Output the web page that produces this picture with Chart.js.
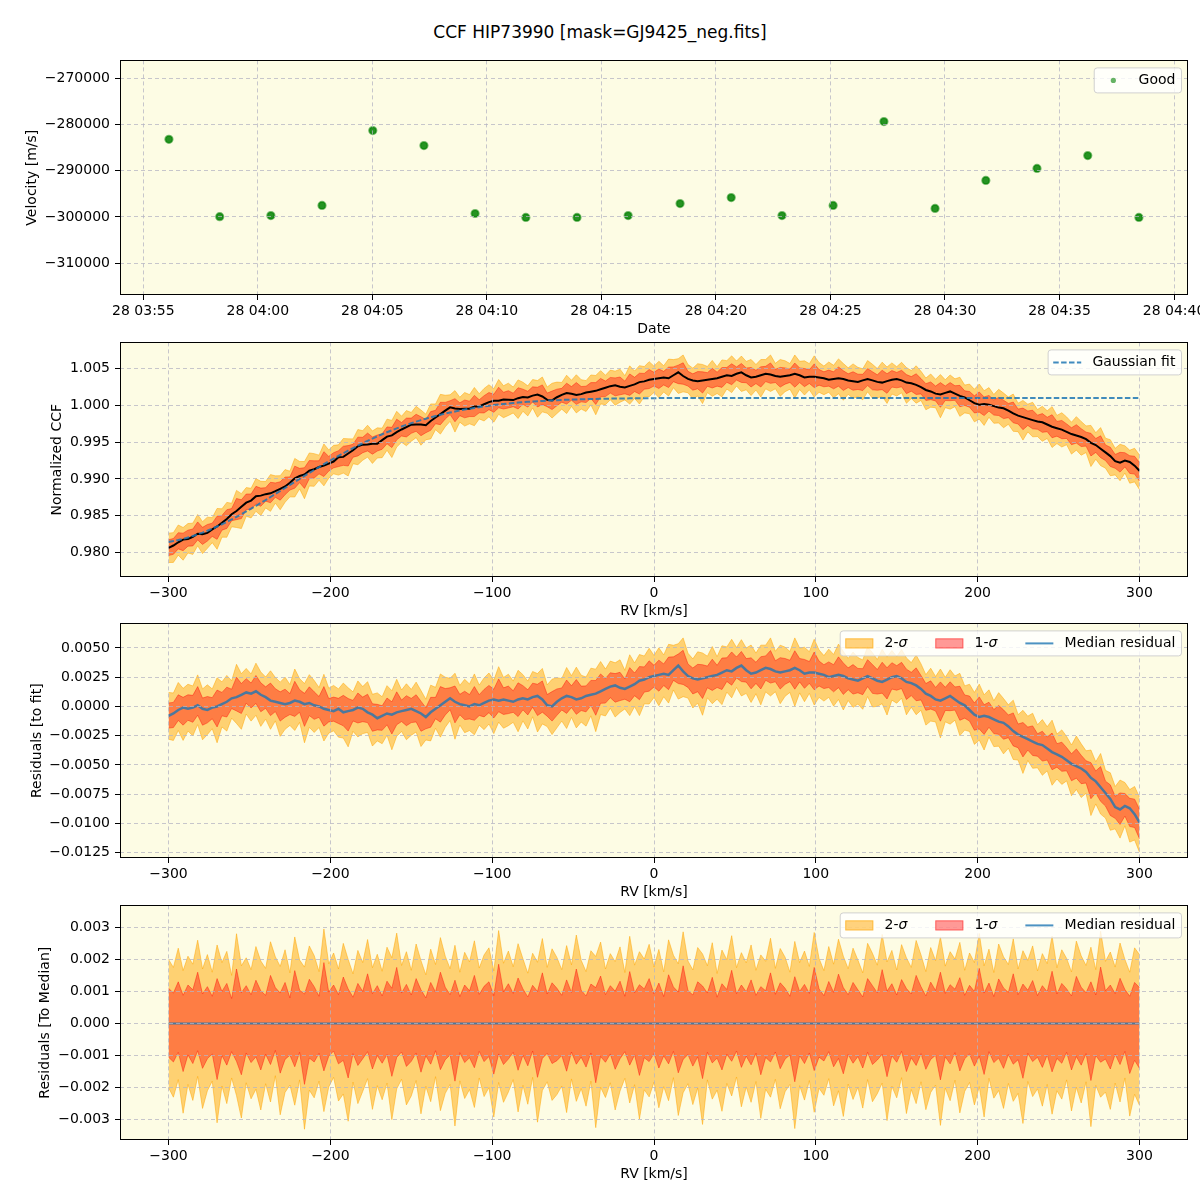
<!DOCTYPE html>
<html>
<head>
<meta charset="utf-8">
<script src="https://cdn.jsdelivr.net/npm/chart.js@4.4.0/dist/chart.umd.min.js"></script>
<style>
  body { margin: 0; background: #fff; width: 1200px; height: 1200px; position: relative; overflow: hidden; }
  #title { position: absolute; top: 22px; left: 0; width: 1200px; text-align: center;
           font-family: 'DejaVu Sans', sans-serif; font-size: 17px; line-height: 20px; color: #000; }
  canvas { position: absolute; left: 0; }
</style>
</head>
<body>
<div id="title">CCF HIP73990 [mask=GJ9425_neg.fits]</div>
<canvas id="c1" width="1200" height="292" style="top:47px"></canvas>
<canvas id="c2" width="1200" height="292" style="top:329px"></canvas>
<canvas id="c3" width="1200" height="292" style="top:610px"></canvas>
<canvas id="c4" width="1200" height="292" style="top:892px"></canvas>
<script>
// ---- panel 1: velocity per exposure ----
const obsTimes = ['03:56:07','03:58:20','04:00:34','04:02:48','04:05:01','04:07:15','04:09:29','04:11:42',
  '04:13:56','04:16:10','04:18:26','04:20:40','04:22:53','04:25:07','04:27:20','04:29:34','04:31:47',
  '04:34:01','04:36:14','04:38:28'];
const velocity = [-283200,-299950,-299700,-297500,-281300,-284550,-299250,-300100,-300100,-299700,
  -297100,-295800,-299700,-297500,-279350,-298150,-292100,-289500,-286700,-300100];
const velTicks = [-310000,-300000,-290000,-280000,-270000];

// ---- panels 2-4: CCF vs RV ----
const rv = [
  -300,-297,-294,-291,-288,-285,-282,-279,-276,-273,-270,-267,-264,-261,-258,-255,-252,-249,-246,-243,
  -240,-237,-234,-231,-228,-225,-222,-219,-216,-213,-210,-207,-204,-201,-198,-195,-192,-189,-186,-183,
  -180,-177,-174,-171,-168,-165,-162,-159,-156,-153,-150,-147,-144,-141,-138,-135,-132,-129,-126,-123,
  -120,-117,-114,-111,-108,-105,-102,-99,-96,-93,-90,-87,-84,-81,-78,-75,-72,-69,-66,-63,
  -60,-57,-54,-51,-48,-45,-42,-39,-36,-33,-30,-27,-24,-21,-18,-15,-12,-9,-6,-3,
  0,3,6,9,12,15,18,21,24,27,30,33,36,39,42,45,48,51,54,57,
  60,63,66,69,72,75,78,81,84,87,90,93,96,99,102,105,108,111,114,117,
  120,123,126,129,132,135,138,141,144,147,150,153,156,159,162,165,168,171,174,177,
  180,183,186,189,192,195,198,201,204,207,210,213,216,219,222,225,228,231,234,237,
  240,243,246,249,252,255,258,261,264,267,270,273,276,279,282,285,288,291,294,297,
  300];

// median normalized CCF
const ccfMedian = [
  0.98061,0.98093,0.98137,0.98173,0.98182,0.98212,0.98254,0.98248,0.98264,0.98312,0.98352,0.98402,0.98455,0.98518,0.98563,0.98619,0.98676,0.98704,0.98763,0.98772,
  0.98792,0.98803,0.98833,0.98865,0.98896,0.98947,0.99008,0.99039,0.99060,0.99111,0.99131,0.99161,0.99180,0.99208,0.99236,0.99293,0.99299,0.99345,0.99389,0.99443,
  0.99466,0.99468,0.99478,0.99478,0.99527,0.99575,0.99591,0.99637,0.99672,0.99705,0.99738,0.99739,0.99740,0.99729,0.99788,0.99835,0.99882,0.99928,0.99973,0.99957,
  0.99951,0.99953,0.99955,0.99986,0.99986,1.00016,1.00045,1.00064,1.00062,1.00079,1.00076,1.00072,1.00098,1.00113,1.00109,1.00133,1.00147,1.00121,1.00075,1.00068,
  1.00111,1.00144,1.00167,1.00159,1.00141,1.00153,1.00175,1.00187,1.00198,1.00219,1.00241,1.00262,1.00273,1.00254,1.00245,1.00266,1.00286,1.00317,1.00327,1.00348,
  1.00358,1.00369,1.00379,1.00369,1.00410,1.00450,1.00400,1.00360,1.00340,1.00330,1.00340,1.00350,1.00360,1.00370,1.00390,1.00410,1.00400,1.00430,1.00450,1.00410,
  1.00380,1.00390,1.00410,1.00430,1.00420,1.00400,1.00390,1.00400,1.00410,1.00430,1.00410,1.00380,1.00390,1.00390,1.00380,1.00370,1.00350,1.00360,1.00370,1.00360,
  1.00340,1.00330,1.00320,1.00340,1.00360,1.00340,1.00320,1.00310,1.00330,1.00350,1.00360,1.00340,1.00310,1.00300,1.00280,1.00250,1.00210,1.00190,1.00160,1.00150,
  1.00170,1.00190,1.00160,1.00130,1.00110,1.00070,1.00030,1.00010,1.00020,1.00010,0.99990,0.99970,0.99960,0.99930,0.99890,0.99860,0.99840,0.99820,0.99800,0.99780,
  0.99770,0.99740,0.99710,0.99690,0.99670,0.99640,0.99610,0.99590,0.99570,0.99540,0.99490,0.99460,0.99410,0.99360,0.99310,0.99240,0.99220,0.99250,0.99230,0.99180,
  0.99110];

// gaussian fit (dashed)
const gaussFit = [
  0.98141,0.98153,0.98167,0.98183,0.98202,0.98222,0.98244,0.98268,0.98294,0.98322,0.98352,0.98382,0.98415,0.98448,0.98483,0.98519,0.98556,0.98594,0.98633,0.98672,
  0.98712,0.98753,0.98793,0.98835,0.98876,0.98917,0.98958,0.98999,0.99040,0.99081,0.99121,0.99161,0.99200,0.99238,0.99276,0.99313,0.99349,0.99385,0.99419,0.99453,
  0.99486,0.99518,0.99548,0.99578,0.99607,0.99635,0.99661,0.99687,0.99712,0.99735,0.99758,0.99779,0.99800,0.99819,0.99838,0.99855,0.99872,0.99888,0.99903,0.99917,
  0.99931,0.99943,0.99955,0.99966,0.99976,0.99986,0.99995,1.00004,1.00012,1.00019,1.00026,1.00032,1.00038,1.00043,1.00049,1.00053,1.00057,1.00061,1.00065,1.00068,
  1.00071,1.00074,1.00077,1.00079,1.00081,1.00083,1.00085,1.00087,1.00088,1.00089,1.00091,1.00092,1.00093,1.00094,1.00095,1.00096,1.00096,1.00097,1.00097,1.00098,
  1.00098,1.00099,1.00099,1.00099,1.001,1.001,1.001,1.001,1.001,1.001,1.001,1.001,1.001,1.001,1.001,1.001,1.001,1.001,1.001,1.001,
  1.001,1.001,1.001,1.001,1.001,1.001,1.001,1.001,1.001,1.001,1.001,1.001,1.001,1.001,1.001,1.001,1.001,1.001,1.001,1.001,
  1.001,1.001,1.001,1.001,1.001,1.001,1.001,1.001,1.001,1.001,1.001,1.001,1.001,1.001,1.001,1.001,1.001,1.001,1.001,1.001,
  1.001,1.001,1.001,1.001,1.001,1.001,1.001,1.001,1.001,1.001,1.001,1.001,1.001,1.001,1.001,1.001,1.001,1.001,1.001,1.001,
  1.001,1.001,1.001,1.001,1.001,1.001,1.001,1.001,1.001,1.001,1.001,1.001,1.001,1.001,1.001,1.001,1.001,1.001,1.001,1.001,
  1.001];

// median residual to the fit
const resMedian = [
  -0.0008,-0.0006,-0.0003,-0.0001,-0.0002,-0.0001,0.0001,-0.0002,-0.0003,-0.0001,0.0000,0.0002,0.0004,0.0007,0.0008,0.0010,0.0012,0.0011,0.0013,0.0010,
  0.0008,0.0005,0.0004,0.0003,0.0002,0.0003,0.0005,0.0004,0.0002,0.0003,0.0001,0.0000,-0.0002,-0.0003,-0.0004,-0.0002,-0.0005,-0.0004,-0.0003,-0.0001,
  -0.0002,-0.0005,-0.0007,-0.0010,-0.0008,-0.0006,-0.0007,-0.0005,-0.0004,-0.0003,-0.0002,-0.0004,-0.0006,-0.0009,-0.0005,-0.0002,0.0001,0.0004,0.0007,0.0004,
  0.0002,0.0001,0.0000,0.0002,0.0001,0.0003,0.0005,0.0006,0.0005,0.0006,0.0005,0.0004,0.0006,0.0007,0.0006,0.0008,0.0009,0.0006,0.0001,0.0000,
  0.0004,0.0007,0.0009,0.0008,0.0006,0.0007,0.0009,0.0010,0.0011,0.0013,0.0015,0.0017,0.0018,0.0016,0.0015,0.0017,0.0019,0.0022,0.0023,0.0025,
  0.0026,0.0027,0.0028,0.0027,0.0031,0.0035,0.0030,0.0026,0.0024,0.0023,0.0024,0.0025,0.0026,0.0027,0.0029,0.0031,0.0030,0.0033,0.0035,0.0031,
  0.0028,0.0029,0.0031,0.0033,0.0032,0.0030,0.0029,0.0030,0.0031,0.0033,0.0031,0.0028,0.0029,0.0029,0.0028,0.0027,0.0025,0.0026,0.0027,0.0026,
  0.0024,0.0023,0.0022,0.0024,0.0026,0.0024,0.0022,0.0021,0.0023,0.0025,0.0026,0.0024,0.0021,0.0020,0.0018,0.0015,0.0011,0.0009,0.0006,0.0005,
  0.0007,0.0009,0.0006,0.0003,0.0001,-0.0003,-0.0007,-0.0009,-0.0008,-0.0009,-0.0011,-0.0013,-0.0014,-0.0017,-0.0021,-0.0024,-0.0026,-0.0028,-0.0030,-0.0032,
  -0.0033,-0.0036,-0.0039,-0.0041,-0.0043,-0.0046,-0.0049,-0.0051,-0.0053,-0.0056,-0.0061,-0.0064,-0.0069,-0.0074,-0.0079,-0.0086,-0.0088,-0.0085,-0.0087,-0.0092,
  -0.0099];

// spread around the median (units of 1e-5)
const sig1Hi = [
  110,95,130,88,120,105,160,92,115,85,140,100,125,78,170,96,118,90,135,102,
  88,150,112,95,128,80,165,104,92,138,115,85,190,98,120,90,145,108,82,125,
  100,155,93,118,86,132,110,175,95,122,89,140,105,80,128,98,160,113,90,135,
  84,120,102,150,91,116,130,87,185,99,124,94,142,108,83,119,100,158,92,127,
  110,88,136,97,170,104,86,123,112,148,90,118,101,132,85,162,96,121,108,140,
  92,126,84,152,114,98,180,103,89,130,117,95,144,82,124,106,166,93,120,99,
  136,88,115,102,158,91,127,110,85,146,100,122,94,175,108,87,131,97,154,112,
  90,128,105,83,140,118,96,168,101,124,89,137,109,92,150,115,86,129,103,160,
  94,121,107,143,88,119,100,172,95,126,84,139,111,97,155,90,123,104,134,87,
  118,99,163,92,125,108,86,147,113,96,130,89,176,102,120,93,141,106,85,128,
  112];
const sig1Lo = [
  -105,-120,-90,-150,-98,-125,-85,-140,-110,-95,-175,-100,-130,-88,-118,-160,-92,-122,-104,-145,
  -96,-128,-84,-155,-112,-99,-135,-90,-190,-108,-120,-93,-148,-102,-86,-126,-115,-170,-94,-131,
  -110,-88,-142,-100,-124,-97,-165,-106,-89,-134,-118,-92,-152,-101,-127,-85,-144,-113,-98,-180,
  -91,-122,-107,-138,-87,-119,-103,-158,-95,-128,-111,-90,-146,-99,-132,-86,-168,-109,-93,-125,
  -116,-100,-149,-89,-127,-105,-136,-92,-185,-103,-121,-95,-143,-110,-88,-130,-98,-162,-107,-119,
  -94,-139,-101,-126,-87,-154,-112,-97,-133,-104,-172,-90,-123,-108,-145,-96,-118,-86,-137,-102,
  -129,-93,-160,-106,-120,-89,-141,-111,-98,-182,-100,-125,-92,-147,-105,-117,-88,-135,-109,-157,
  -97,-124,-103,-139,-90,-128,-114,-96,-166,-101,-121,-87,-150,-107,-131,-94,-143,-112,-99,-176,
  -104,-126,-91,-148,-110,-95,-133,-102,-159,-88,-122,-108,-140,-97,-127,-113,-171,-93,-119,-105,
  -137,-98,-151,-109,-124,-90,-145,-103,-130,-94,-178,-100,-121,-111,-142,-96,-128,-87,-156,-115,
  -140];
const sig2Hi = [
  200,175,235,165,210,185,260,170,215,160,245,190,225,150,280,180,205,168,240,195,
  172,255,208,178,230,158,270,198,176,242,212,162,295,186,220,170,250,200,155,228,
  190,262,174,216,163,238,205,282,181,224,166,248,196,152,232,184,268,210,171,244,
  160,222,192,258,173,214,236,164,290,188,226,177,249,202,157,219,191,265,175,233,
  206,168,243,183,276,197,162,227,209,254,170,218,193,239,159,272,182,224,201,247,
  176,231,161,261,213,186,286,195,167,237,217,180,252,156,229,199,274,174,221,189,
  245,166,214,194,266,172,234,207,160,256,190,226,178,284,203,165,240,185,263,210,
  171,235,198,158,250,219,182,278,192,228,167,246,205,175,259,214,162,237,196,270,
  179,224,201,253,166,220,190,281,180,232,159,248,208,184,264,170,227,197,242,164,
  218,187,273,174,230,203,161,257,211,181,238,168,288,194,223,176,251,200,160,236,
  215];
const sig2Lo = [
  -200,-230,-175,-280,-190,-240,-165,-265,-210,-180,-310,-195,-250,-170,-225,-295,-185,-235,-205,-270,
  -188,-245,-163,-285,-215,-192,-255,-176,-330,-208,-232,-180,-275,-198,-168,-242,-220,-305,-183,-250,
  -212,-172,-268,-194,-238,-186,-300,-204,-174,-254,-226,-178,-282,-196,-244,-166,-272,-218,-190,-320,
  -179,-234,-206,-262,-170,-228,-200,-292,-184,-246,-214,-175,-276,-193,-252,-168,-308,-209,-182,-240,
  -222,-195,-278,-173,-243,-203,-258,-180,-325,-199,-231,-185,-270,-211,-171,-248,-191,-298,-207,-229,
  -183,-263,-197,-241,-169,-287,-216,-188,-253,-201,-315,-176,-236,-208,-274,-187,-226,-167,-260,-198,
  -246,-181,-296,-205,-230,-174,-266,-213,-190,-328,-194,-239,-178,-277,-202,-224,-172,-257,-210,-290,
  -189,-237,-199,-264,-175,-244,-219,-186,-303,-196,-232,-169,-281,-206,-250,-182,-269,-215,-192,-318,
  -201,-241,-177,-279,-212,-184,-254,-197,-292,-171,-233,-209,-265,-187,-243,-218,-312,-181,-228,-204,
  -258,-190,-283,-210,-236,-176,-273,-199,-248,-182,-322,-193,-230,-214,-268,-186,-245,-170,-289,-221,
  -255];
const SIG_UNIT = 1e-5;

// ---- styles ----
const BG = 'rgb(253,252,228)';
const GRID = 'rgba(180,180,195,0.75)';
const ORANGE = 'rgba(255,165,0,0.5)';
const RED = 'rgba(255,0,0,0.4)';
const BLUE = 'rgba(31,119,180,0.8)';
const FONT = "'DejaVu Sans', sans-serif";

Chart.defaults.font.family = FONT;
Chart.defaults.font.size = 14;
Chart.defaults.color = '#000';

function minus(s) { return String(s).replace('-', '\u2212'); }
function toMinutes(t) { const p = t.split(':').map(Number); return p[0] * 60 + p[1] + p[2] / 60; }

const bgPlugin = {
  id: 'areaBg',
  beforeDraw(chart) {
    const a = chart.chartArea, ctx = chart.ctx;
    ctx.save(); ctx.fillStyle = BG;
    ctx.fillRect(a.left, a.top, a.right - a.left, a.bottom - a.top);
    ctx.restore();
  }
};
const framePlugin = {
  id: 'frame',
  afterDraw(chart) {
    const a = chart.chartArea, ctx = chart.ctx;
    ctx.save(); ctx.strokeStyle = '#000'; ctx.lineWidth = 1;
    ctx.strokeRect(Math.round(a.left) + 0.5, Math.round(a.top) + 0.5,
      Math.round(a.right - a.left) - 1, Math.round(a.bottom - a.top) - 1);
    ctx.restore();
  }
};

// matplotlib-like legend box in the upper right corner
function labelWidth(ctx, txt) {
  let w = 0;
  txt.split(/(σ)/).forEach(function (p) {
    if (!p) return;
    ctx.font = (p === 'σ' ? 'italic ' : '') + '14px ' + FONT;
    w += ctx.measureText(p).width;
  });
  return w;
}
function drawLabel(ctx, txt, x, y) {
  txt.split(/(σ)/).forEach(function (p) {
    if (!p) return;
    ctx.font = (p === 'σ' ? 'italic ' : '') + '14px ' + FONT;
    ctx.fillText(p, x, y);
    x += ctx.measureText(p).width;
  });
}
const legendPlugin = {
  id: 'boxLegend',
  afterDraw(chart, args, opts) {
    const items = opts.items;
    if (!items) return;
    const ctx = chart.ctx, a = chart.chartArea;
    const pad = 5.6, hl = 28, gap = 11.2, colGap = 28, h = 25;
    ctx.save();
    const ws = items.map(function (it) { return labelWidth(ctx, it.label); });
    let w = pad * 2;
    items.forEach(function (it, i) { w += hl + gap + ws[i] + (i ? colGap : 0); });
    const x0 = a.right - 7 - w, y0 = a.top + 7;
    ctx.beginPath();
    ctx.roundRect(x0 + 0.5, y0 + 0.5, w, h, 3);
    ctx.fillStyle = 'rgba(255,255,255,0.8)'; ctx.fill();
    ctx.strokeStyle = 'rgba(204,204,204,0.9)'; ctx.lineWidth = 1; ctx.stroke();
    let x = x0 + pad;
    const cy = y0 + h / 2 + 0.5;
    items.forEach(function (it, i) {
      if (i) x += colGap;
      if (it.type === 'point') {
        ctx.beginPath(); ctx.arc(x + hl / 2, cy, 2.6, 0, Math.PI * 2);
        ctx.fillStyle = it.color; ctx.fill();
      } else if (it.type === 'patch') {
        ctx.fillStyle = it.color; ctx.fillRect(x, cy - 5, hl, 10);
        ctx.strokeStyle = it.color; ctx.strokeRect(x + 0.5, cy - 4.5, hl - 1, 9);
      } else {
        ctx.beginPath(); ctx.setLineDash(it.dash || []);
        ctx.moveTo(x, cy); ctx.lineTo(x + hl, cy);
        ctx.strokeStyle = it.color; ctx.lineWidth = it.width || 2; ctx.stroke();
        ctx.setLineDash([]);
      }
      x += hl + gap;
      ctx.fillStyle = '#000'; ctx.textBaseline = 'middle'; ctx.textAlign = 'left';
      drawLabel(ctx, it.label, x, cy);
      x += ws[i];
    });
    ctx.restore();
  }
};
Chart.register(bgPlugin, framePlugin, legendPlugin);

function yScale(min, max, step, fmt, title, titleOffset, fixedTicks) {
  const s = {
    type: 'linear', min: min, max: max,
    afterFit: function (sc) { sc.width = 120; },
    ticks: { stepSize: step, includeBounds: false, padding: 5, callback: fmt },
    grid: { color: GRID, tickColor: '#000', tickLength: 5, z: 1 },
    border: { display: false, dash: [4, 3] },
    title: { display: true, text: title, padding: { top: titleOffset, bottom: 0 } }
  };
  if (fixedTicks) {
    s.afterBuildTicks = function (sc) { sc.ticks = fixedTicks.map(function (v) { return { value: v }; }); };
  }
  return s;
}
function xScale(min, max, step, fmt, title) {
  return {
    type: 'linear', min: min, max: max,
    afterFit: function (s) { s.height = 44; s.paddingLeft = 0; s.paddingRight = 0; },
    ticks: { stepSize: step, includeBounds: false, padding: 3, autoSkip: false, maxRotation: 0, callback: fmt },
    grid: { color: GRID, tickColor: '#000', tickLength: 5, z: 1 },
    border: { display: false, dash: [4, 3] },
    title: { display: true, text: title, padding: { top: 0, bottom: 1 } }
  };
}
function baseOptions(scales, legendItems) {
  return {
    responsive: false, animation: false, devicePixelRatio: 1, events: [],
    layout: { padding: { top: 6, right: 12, left: 0, bottom: 0 }, autoPadding: false },
    scales: scales,
    plugins: { legend: { display: false }, tooltip: { enabled: false }, boxLegend: { items: legendItems } },
    elements: { point: { radius: 0 }, line: { tension: 0 } }
  };
}
function series(ys) { return rv.map(function (x, i) { return { x: x, y: ys[i] }; }); }
function band(base, q) { return rv.map(function (x, i) { return { x: x, y: base[i] + q[i] * SIG_UNIT }; }); }
function bandSets(base) {
  return [
    { data: band(base, sig1Hi), fill: '+1', backgroundColor: RED, borderColor: RED, borderWidth: 1 },
    { data: band(base, sig1Lo), fill: false, borderColor: RED, borderWidth: 1 },
    { data: band(base, sig2Hi), fill: '+1', backgroundColor: ORANGE, borderColor: ORANGE, borderWidth: 1 },
    { data: band(base, sig2Lo), fill: false, borderColor: ORANGE, borderWidth: 1 }
  ];
}
const rvTick = function (v) { return minus(v); };
const sigmaLegend = [
  { type: 'patch', color: ORANGE, label: '2-σ' },
  { type: 'patch', color: RED, label: '1-σ' },
  { type: 'line', color: BLUE, width: 2, label: 'Median residual' }
];

// panel 1
new Chart(document.getElementById('c1'), {
  type: 'scatter',
  data: { datasets: [{
    data: obsTimes.map(function (t, i) { return { x: toMinutes(t), y: velocity[i] }; }),
    pointRadius: 3.6, pointBorderWidth: 2,
    backgroundColor: 'rgba(0,128,0,0.85)', borderColor: 'rgba(0,128,0,0.55)'
  }] },
  options: baseOptions({
    x: xScale(233.98, 280.61, 5, function (v) {
      const h = Math.floor(v / 60), m = Math.round(v - h * 60);
      return '28 ' + String(h).padStart(2, '0') + ':' + String(m).padStart(2, '0');
    }, 'Date'),
    y: yScale(-316900, -266100, 10000, function (v) { return minus(v); }, 'Velocity [m/s]', 24, velTicks)
  }, [{ type: 'point', color: 'rgba(0,128,0,0.6)', label: 'Good' }])
});

// panel 2
new Chart(document.getElementById('c2'), {
  type: 'line',
  data: { datasets: [
    { data: series(gaussFit), borderColor: 'rgba(31,119,180,0.85)', borderWidth: 2, borderDash: [5.5, 2.4] },
    { data: series(ccfMedian), borderColor: '#000', borderWidth: 2 }
  ].concat(bandSets(ccfMedian)) },
  options: baseOptions({
    x: xScale(-330, 330, 100, rvTick, 'RV [km/s]'),
    y: yScale(0.976644, 1.008573, 0.005, function (v) { return v.toFixed(3); }, 'Normalized CCF', 49)
  }, [{ type: 'line', color: 'rgba(31,119,180,0.85)', width: 2, dash: [5.5, 2.4], label: 'Gaussian fit' }])
});

// panel 3
new Chart(document.getElementById('c3'), {
  type: 'line',
  data: { datasets: [
    { data: series(resMedian), borderColor: BLUE, borderWidth: 2.5 }
  ].concat(bandSets(resMedian)) },
  options: baseOptions({
    x: xScale(-330, 330, 100, rvTick, 'RV [km/s]'),
    y: yScale(-0.01295, 0.0071, 0.0025, function (v) {
      if (Math.abs(v) < 1e-12) v = 0; return minus(v.toFixed(4)); }, 'Residuals [to fit]', 29)
  }, sigmaLegend)
});

// panel 4
const zeroLine = new Array(rv.length).fill(0);
new Chart(document.getElementById('c4'), {
  type: 'line',
  data: { datasets: [
    { data: series(zeroLine), borderColor: BLUE, borderWidth: 2 }
  ].concat(bandSets(zeroLine)) },
  options: baseOptions({
    x: xScale(-330, 330, 100, rvTick, 'RV [km/s]'),
    y: yScale(-0.003636, 0.003685, 0.001, function (v) {
      if (Math.abs(v) < 1e-12) v = 0; return minus(v.toFixed(3)); }, 'Residuals [To Median]', 37)
  }, sigmaLegend)
});
</script>
</body>
</html>
